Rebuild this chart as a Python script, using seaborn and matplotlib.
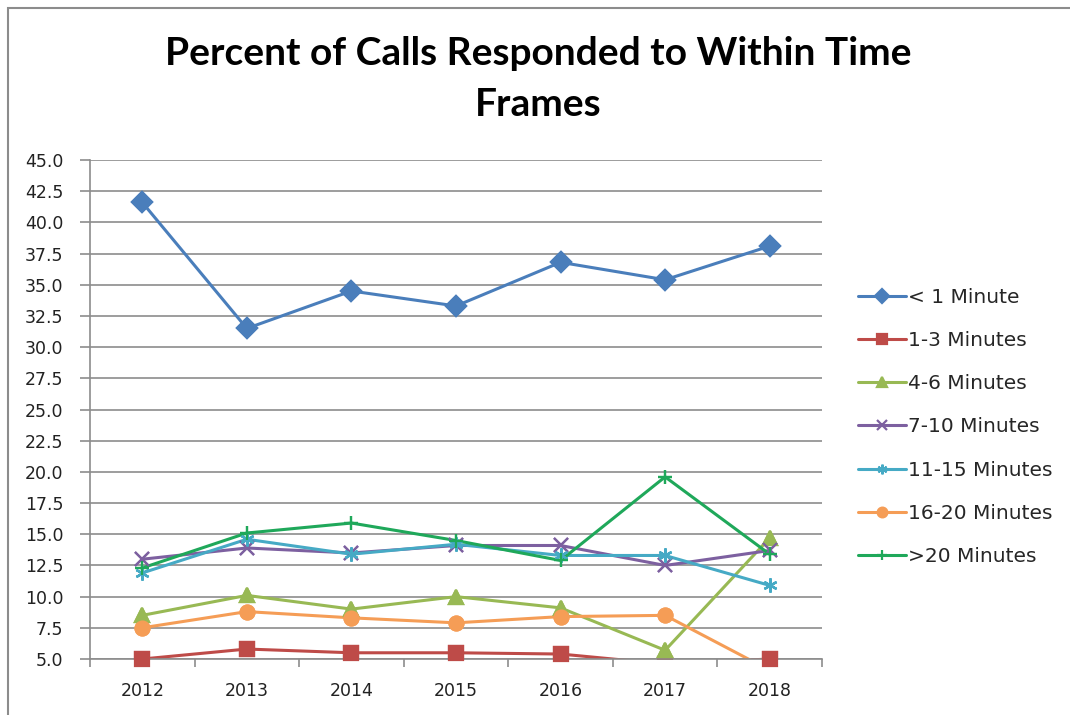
import numpy as np
import pandas as pd
import matplotlib
matplotlib.use('Agg')
import matplotlib.pyplot as plt
from matplotlib.patches import Rectangle
from matplotlib.ticker import FixedLocator, FormatStrFormatter
import seaborn as sns

# Data
years = ['2012', '2013', '2014', '2015', '2016', '2017', '2018']
under_1 = [41.6, 31.5, 34.5, 33.3, 36.8, 35.4, 38.1]
min_1_3 = [5.0, 5.8, 5.5, 5.5, 5.4, 4.6, 5.0]
min_4_6 = [8.5, 10.1, 9.0, 10.0, 9.1, 5.7, 14.7]
min_7_10 = [13.0, 13.9, 13.5, 14.1, 14.1, 12.5, 13.7]
min_11_15 = [11.9, 14.6, 13.4, 14.2, 13.3, 13.3, 10.9]
min_16_20 = [7.5, 8.8, 8.3, 7.9, 8.4, 8.5, 4.1]
over_20 = [12.3, 15.1, 15.9, 14.5, 12.9, 19.6, 13.4]

series_names = ['< 1 Minute', '1-3 Minutes', '4-6 Minutes', '7-10 Minutes',
                '11-15 Minutes', '16-20 Minutes', '>20 Minutes']
series_values = [under_1, min_1_3, min_4_6, min_7_10, min_11_15, min_16_20, over_20]
colors = ['#4A7EBB', '#BE4B48', '#98B954', '#7D60A0', '#46AAC5', '#F59D56', '#1FA85A']
marker_list = ['D', 's', '^', 'x', (6, 2, 0), 'o', '+']

sns.set_style('white')
plt.rcParams['font.family'] = ['DejaVu Sans']

fig = plt.figure(figsize=(10.7, 7.15), dpi=100)
ax = fig.add_axes([0.0841, 0.0783, 0.6841, 0.6979])

handles = []
for name, vals, col, mk in zip(series_names, series_values, colors, marker_list):
    d = pd.DataFrame({'pos': range(len(vals)), 'value': vals})
    sns.lineplot(data=d, x='pos', y='value', color=col, linewidth=2.2,
                 marker=mk, markersize=10, markeredgewidth=1.6,
                 markeredgecolor=col, label=name, ax=ax)
    handles.append(ax.lines[-1])
    # markers resting on the bottom axis stay whole (Excel style); those below are hidden
    on = d[d['value'] >= 5.0]
    ax.plot(on['pos'], on['value'], linestyle='none', marker=mk, markersize=10,
            markeredgewidth=1.6, color=col, markeredgecolor=col,
            clip_on=False, zorder=5)

ax.set_xlim(-0.5, 6.5)
ax.set_ylim(5, 45)
ax.set_xticks(range(len(years)))
ax.set_xticklabels(years)
ax.xaxis.set_minor_locator(FixedLocator(np.arange(-0.5, 7, 1)))
ax.set_yticks(np.arange(5, 45.1, 2.5))
ax.yaxis.set_major_formatter(FormatStrFormatter('%.1f'))
ax.set_xlabel('')
ax.set_ylabel('')

ax.grid(axis='y', color='#8C8C8C', linewidth=1.2)
ax.grid(axis='x', visible=False)
for s in ['top', 'right']:
    ax.spines[s].set_visible(False)
for s in ['left', 'bottom']:
    ax.spines[s].set_color('#8C8C8C')
    ax.spines[s].set_linewidth(1.2)

ax.tick_params(axis='y', which='major', left=True, length=7, width=1.2,
               color='#8C8C8C', labelsize=12.5, labelcolor='#222222', pad=12)
ax.tick_params(axis='x', which='major', bottom=False, labelsize=12.5,
               labelcolor='#222222', pad=13)
ax.tick_params(axis='x', which='minor', bottom=True, length=6, width=1.2,
               color='#8C8C8C')

if ax.get_legend() is not None:
    ax.get_legend().remove()
ax.legend(handles, series_names, loc='center left', frameon=False,
          bbox_to_anchor=(1.024, 0.465), fontsize=14.5, labelspacing=1.2,
          handlelength=2.4, handletextpad=0.12, markerscale=0.7)

fig.text(0.503, 1 - 79 / 715, 'Percent of Calls Responded to Within Time\nFrames',
         ha='center', va='center', fontsize=28, fontweight='bold', color='black',
         family=['Lato', 'DejaVu Sans'], linespacing=1.55)

fig.patches.append(Rectangle((8 / 1070, -0.05), 1.2, 1.05 - 8 / 715,
                             transform=fig.transFigure, fill=False,
                             edgecolor='#8C8C8C', linewidth=1.5))

fig.savefig('out.png', dpi=100)
